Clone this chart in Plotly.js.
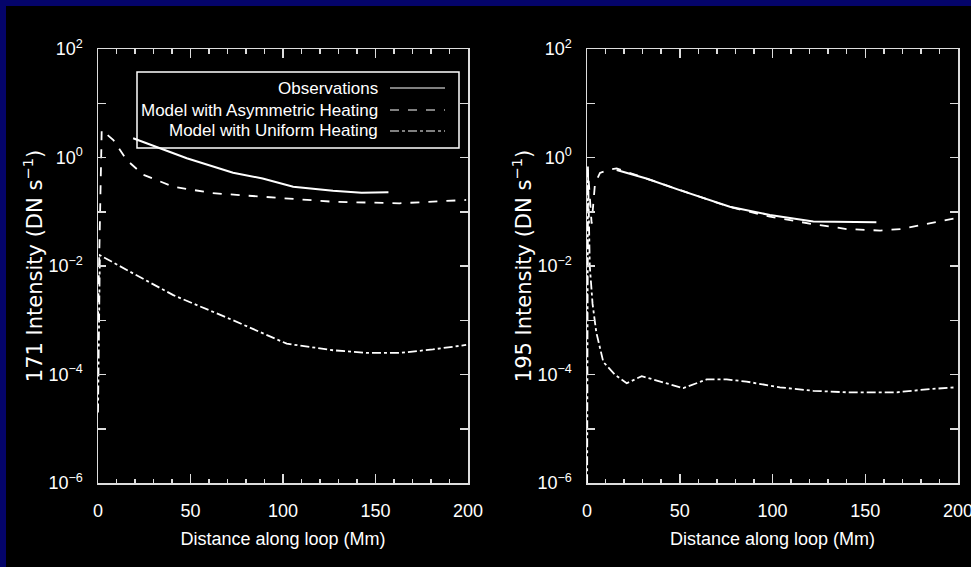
<!DOCTYPE html>
<html><head><meta charset="utf-8">
<script src="https://cdn.plot.ly/plotly-3.0.1.min.js"></script>
<style>
html,body{margin:0;padding:0;background:#04046a;width:971px;height:567px;overflow:hidden}
#chart{position:absolute;left:6px;top:6px;width:965px;height:561px}
</style></head><body>
<div id="chart"></div>
<script>
// ---- data ----
// 171 channel (left panel)
const obs171X = [19, 48, 73, 89, 105.5, 127, 142.5, 157];
const obs171Y = [2.26, 0.97, 0.525, 0.41, 0.29, 0.245, 0.225, 0.23];
const asym171X = [0, 2, 8.3, 15.5, 24.5, 40.7, 62, 100, 127, 163, 199];
const asym171Y = [0.001, 3.2, 2.1, 0.9, 0.48, 0.29, 0.22, 0.178, 0.153, 0.143, 0.165];
const unif171X = [0, 1, 19, 40.7, 73, 94.8, 102, 127, 145, 163, 181, 199];
const unif171Y = [2e-5, 0.0158, 0.0073, 0.0029, 0.001, 4.66e-4, 3.7e-4, 2.8e-4, 2.5e-4, 2.5e-4, 2.9e-4, 3.5e-4];
// 195 channel (right panel)
const obs195X = [16, 32, 50, 77, 98.6, 122, 156];
const obs195Y = [0.59, 0.41, 0.25, 0.124, 0.087, 0.066, 0.064];
const asym195X = [0, 0.5, 2.5, 4.3, 7, 12.4, 16, 32, 50, 77, 98.6, 122, 140, 158, 169, 185, 199];
const asym195Y = [0.001, 0.6, 0.06, 0.33, 0.52, 0.6, 0.63, 0.41, 0.25, 0.122, 0.081, 0.059, 0.048, 0.045, 0.048, 0.062, 0.076];
const unif195X = [0, 0.5, 1.5, 3, 5, 8.8, 15, 21.4, 29.5, 51.9, 64.5, 75.3, 86, 104, 122, 140, 167, 185, 199];
const unif195Y = [1e-7, 0.7, 0.01, 0.002, 6e-4, 1.7e-4, 1e-4, 6.9e-5, 9.3e-5, 5.6e-5, 8.1e-5, 8.1e-5, 7.4e-5, 5.8e-5, 5e-5, 4.7e-5, 4.7e-5, 5.4e-5, 5.8e-5];

const seriesNames = ['Observations', 'Model with Asymmetric Heating', 'Model with Uniform Heating'];
const seriesDash = ['solid', 'dash', 'dashdot'];
const yMajor = [1e-6, 1e-4, 1e-2, 1, 100];
const yMajorText = ['10<sup>−6</sup>', '10<sup>−4</sup>', '10<sup>−2</sup>', '10<sup>0</sup>', '10<sup>2</sup>'];
const yMinor = [1e-5, 1e-3, 1e-1, 10];
const xTicks = [0, 50, 100, 150, 200];
const xMinor = [10, 20, 30, 40, 60, 70, 80, 90, 110, 120, 130, 140, 160, 170, 180, 190];

const W = 965, H = 561;
const FONT = '"Liberation Sans", Arial, sans-serif';
const YFONT = '"DejaVu Sans", sans-serif';
const AX = '#dddddd';

function tr(x, y, i, xa, ya) {
  return {x: x, y: y, type: 'scatter', mode: 'lines', name: seriesNames[i], showlegend: false,
    xaxis: xa, yaxis: ya, line: {color: '#ffffff', width: i === 0 ? 2 : 1.8, dash: seriesDash[i]}};
}
// empty helper traces only register the label axes (they draw nothing)
function holder(xa, ya) {
  return {x: [], y: [], type: 'scatter', mode: 'lines', showlegend: false, hoverinfo: 'skip', xaxis: xa, yaxis: ya};
}
const data = [
  tr(obs171X, obs171Y, 0, 'x', 'y'), tr(asym171X, asym171Y, 1, 'x', 'y'), tr(unif171X, unif171Y, 2, 'x', 'y'),
  tr(obs195X, obs195Y, 0, 'x2', 'y2'), tr(asym195X, asym195Y, 1, 'x2', 'y2'), tr(unif195X, unif195Y, 2, 'x2', 'y2'),
  holder('x3', 'y'), holder('x4', 'y2')
];

// frame axis: inside major + minor ticks on all four sides, no labels
function xax(dom, anchor) {
  return {domain: dom, anchor: anchor, range: [0, 200], showgrid: false, zeroline: false,
    showline: true, linecolor: AX, linewidth: 1.5, mirror: 'allticks',
    ticks: 'inside', ticklen: 9, tickwidth: 1.5, tickcolor: AX,
    tickmode: 'array', tickvals: xTicks, showticklabels: false,
    minor: {tickmode: 'array', tickvals: xMinor, ticks: 'inside', ticklen: 4.5, tickwidth: 1.5, tickcolor: AX, showgrid: false}};
}
// label axis overlaying the frame axis: invisible outside ticks push labels down
function xlab(dom, anchor, over) {
  return {domain: dom, anchor: anchor, overlaying: over, side: 'bottom', range: [0, 200], autorange: false,
    showgrid: false, zeroline: false, showline: false,
    ticks: 'outside', ticklen: 11, tickcolor: 'rgba(0,0,0,0)',
    tickmode: 'array', tickvals: xTicks, ticktext: xTicks.map(String), ticklabeloverflow: 'allow',
    tickfont: {family: FONT, size: 18, color: '#ffffff'},
    title: {text: 'Distance along loop (Mm)', font: {family: FONT, size: 18, color: '#ffffff'}, standoff: 12}};
}
function yax(dom, anchor, t) {
  return {domain: dom, anchor: anchor, type: 'log', range: [-6, 2], showgrid: false, zeroline: false,
    showline: true, linecolor: AX, linewidth: 1.5, mirror: 'allticks',
    ticks: 'inside', ticklen: 8, tickwidth: 1.5, tickcolor: AX,
    tickmode: 'array', tickvals: yMajor, ticktext: yMajorText.map(s => s + '\u00a0\u00a0'),
    minor: {tickmode: 'array', tickvals: yMinor, ticks: 'inside', ticklen: 4.5, tickwidth: 1.5, tickcolor: AX, showgrid: false},
    tickfont: {family: FONT, size: 18, color: '#ffffff'},
    title: {text: t, font: {family: YFONT, size: 21, color: '#ffffff'}, standoff: 0}};
}

const yDom = [(H - 477) / H, (H - 43) / H];
const xDomL = [92 / W, 462 / W], xDomR = [581 / W, 952 / W];
// custom legend (IDL-style: text right-aligned, line sample at right)
const legRowsY = [82, 104, 125];
const shapes = [{type: 'rect', xref: 'paper', yref: 'paper', x0: 131 / W, x1: 453 / W, y0: 1 - 142 / H, y1: 1 - 66 / H,
  line: {color: '#ffffff', width: 1.5}, fillcolor: 'rgba(0,0,0,0)'}];
const annotations = [];
seriesNames.forEach((n, i) => {
  shapes.push({type: 'line', xref: 'paper', yref: 'paper', x0: 384 / W, x1: 439 / W,
    y0: 1 - legRowsY[i] / H, y1: 1 - legRowsY[i] / H, line: {color: '#ffffff', width: 1.2, dash: seriesDash[i]}});
  annotations.push({xref: 'paper', yref: 'paper', x: 374 / W, y: 1 - legRowsY[i] / H, xanchor: 'right', yanchor: 'middle',
    text: n, showarrow: false, font: {family: FONT, size: 17, color: '#ffffff'}});
});

const layout = {
  width: W, height: H, margin: {l: 0, r: 0, t: 0, b: 0},
  paper_bgcolor: '#000000', plot_bgcolor: '#000000', showlegend: false,
  xaxis: xax(xDomL, 'y'), yaxis: yax(yDom, 'x', '171 Intensity (DN s<sup>−1</sup>)'),
  xaxis2: xax(xDomR, 'y2'), yaxis2: yax(yDom, 'x2', '195 Intensity (DN s<sup>−1</sup>)'),
  xaxis3: xlab(xDomL, 'y', 'x'), xaxis4: xlab(xDomR, 'y2', 'x2'),
  shapes: shapes, annotations: annotations
};
Plotly.newPlot('chart', data, layout, {displayModeBar: false, staticPlot: true});
</script>
</body></html>
